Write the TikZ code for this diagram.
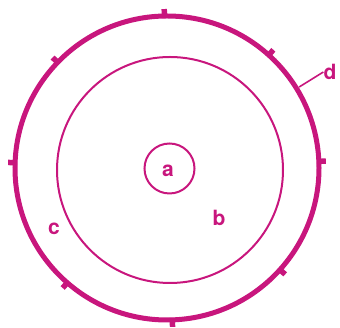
\documentclass[tikz,border=0pt]{standalone}
\usepackage{fontspec}
\setmainfont{TeX Gyre Heros}
\usetikzlibrary{calc}
\definecolor{mag}{RGB}{200,22,125}
\begin{document}
\begin{tikzpicture}[x=1pt,y=1pt,
  lbl/.style={text=mag,font=\fontsize{21}{21}\selectfont\bfseries,inner sep=0pt},
  tick/.style={draw=mag,line width=5.5pt}]
\useasboundingbox (0,0) rectangle (340,328);
\coordinate (O) at (167,160);
\coordinate (I) at (170,158);
\coordinate (A) at (169.5,159.5);
\draw[mag,line width=5pt] (O) circle[radius=152];
\foreach \ang in {91,48,2.5,-42,-88,-131,178,136}
  \draw[tick] ($(O)+(\ang:150)$) -- ($(O)+(\ang:159)$);
\draw[mag,line width=2pt] (I) circle[radius=113];
\draw[mag,line width=2pt] (A) circle[radius=25];
\node[lbl] (a) at (168,157) {a};
\node[lbl] (b) at (219,110) {b};
\node[lbl] (c) at (54,99) {c};
\node[lbl] (d) at (330,256) {d};
\coordinate (dp) at ($(O)+(31.5:155)$);
\draw[mag,line width=1.6pt] (dp) -- (d.west);
\end{tikzpicture}
\end{document}
